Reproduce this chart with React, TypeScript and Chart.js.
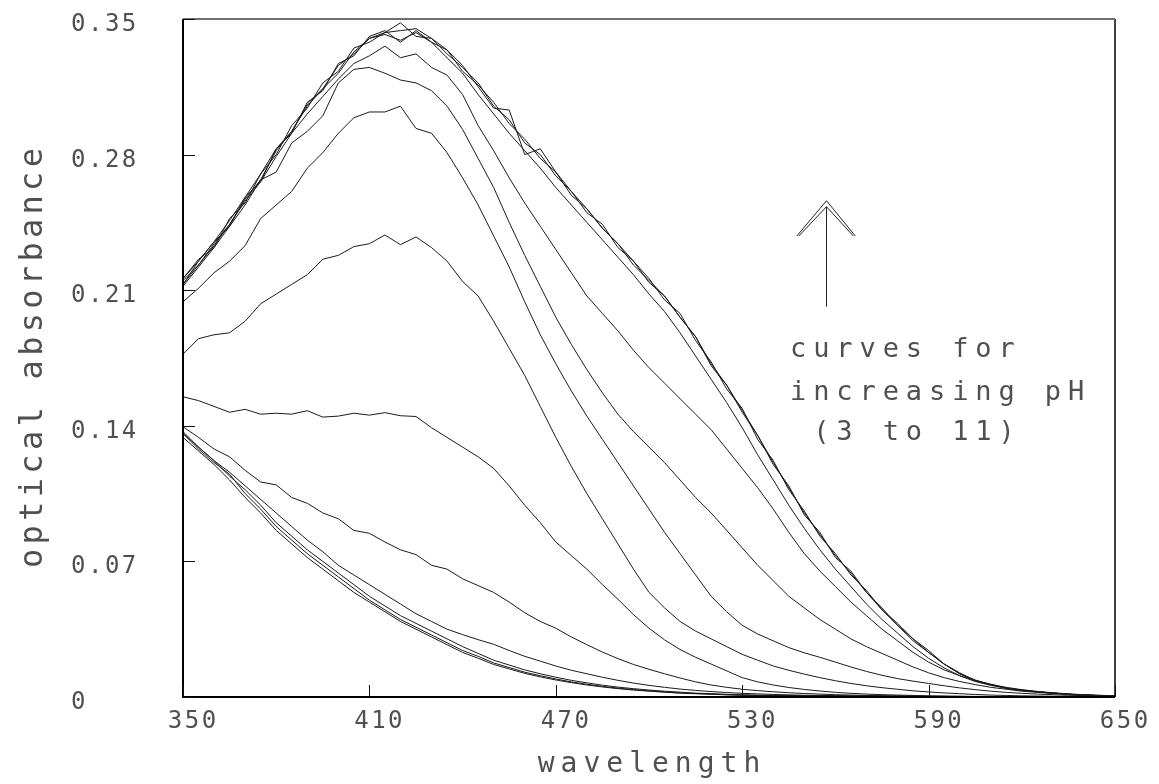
import React, { useEffect, useRef } from "react";
import { Chart, registerables } from "chart.js";

Chart.register(...registerables);

const WAVELENGTHS = [
  350, 355, 360, 365, 370, 375, 380, 385, 390, 395,
  400, 405, 410, 415, 420, 425, 430, 435, 440, 445,
  450, 455, 460, 465, 470, 475, 480, 485, 490, 495,
  500, 505, 510, 515, 520, 525, 530, 535, 540, 545,
  550, 555, 560, 565, 570, 575, 580, 585, 590, 595,
  600, 605, 610, 615, 620, 625, 630, 635, 640, 645, 650,
];

const X_TICKS = [350, 410, 470, 530, 590, 650];
const X_TICK_LABELS = ["350", "410", "470", "530", "590", "650"];
const Y_TICKS = [0, 0.07, 0.14, 0.21, 0.28, 0.35];
const Y_TICK_LABELS = ["0", "0.07", "0.14", "0.21", "0.28", "0.35"];

const X_TITLE = "wavelength";
const Y_TITLE = "optical absorbance";
const NOTE_LINES = ["curves for", "increasing pH", " (3 to 11)"];

// absorbance curves, lowest pH first
const S1 = [
  0.134, 0.127, 0.120, 0.112, 0.103, 0.095, 0.086, 0.079, 0.072, 0.066,
  0.060, 0.054, 0.049, 0.044, 0.039, 0.035, 0.031, 0.027, 0.023, 0.020,
  0.0168, 0.0145, 0.0122, 0.0104, 0.0088, 0.0074, 0.0062, 0.0052, 0.0043, 0.0036,
  0.0030, 0.0025, 0.0020, 0.0017, 0.0014, 0.0011, 0.0009, 0.0008, 0.0007, 0.0006,
  0.0005, 0.0004, 0.0004, 0.0003, 0.0003, 0.0003, 0.0002, 0.0002, 0.0002, 0.0002,
  0.0002, 0.0001, 0.0001, 0.0001, 0.0001, 0.0001, 0.0001, 0.0001, 0.0001, 0.0001, 0.0001,
];
const S2 = [
  0.136, 0.128, 0.121, 0.115, 0.105, 0.097, 0.088, 0.081, 0.074, 0.068,
  0.062, 0.056, 0.050, 0.045, 0.040, 0.036, 0.032, 0.028, 0.024, 0.021,
  0.0176, 0.0152, 0.0128, 0.0110, 0.0093, 0.0078, 0.0066, 0.0055, 0.0046, 0.0038,
  0.0032, 0.0026, 0.0021, 0.0018, 0.0015, 0.0012, 0.0010, 0.0008, 0.0007, 0.0006,
  0.0005, 0.0005, 0.0004, 0.0004, 0.0003, 0.0003, 0.0003, 0.0002, 0.0002, 0.0002,
  0.0002, 0.0002, 0.0001, 0.0001, 0.0001, 0.0001, 0.0001, 0.0001, 0.0001, 0.0001, 0.0001,
];
const S3 = [
  0.137, 0.129, 0.122, 0.114, 0.107, 0.099, 0.090, 0.083, 0.076, 0.070,
  0.064, 0.058, 0.052, 0.047, 0.042, 0.038, 0.034, 0.030, 0.026, 0.0225,
  0.0190, 0.0165, 0.0140, 0.0120, 0.0102, 0.0086, 0.0073, 0.0061, 0.0051, 0.0043,
  0.0036, 0.0030, 0.0025, 0.0020, 0.0017, 0.0014, 0.0011, 0.0009, 0.0008, 0.0007,
  0.0006, 0.0005, 0.0005, 0.0004, 0.0004, 0.0003, 0.0003, 0.0003, 0.0002, 0.0002,
  0.0002, 0.0002, 0.0002, 0.0001, 0.0001, 0.0001, 0.0001, 0.0001, 0.0001, 0.0001, 0.0001,
];
const S4 = [
  0.136, 0.129, 0.122, 0.116, 0.109, 0.102, 0.095, 0.088, 0.081, 0.075,
  0.068, 0.063, 0.058, 0.053, 0.048, 0.043, 0.039, 0.035, 0.0322, 0.0296,
  0.0272, 0.0240, 0.0210, 0.0185, 0.0160, 0.0138, 0.0120, 0.0102, 0.0086, 0.0072,
  0.0060, 0.0050, 0.0041, 0.0034, 0.0028, 0.0023, 0.0019, 0.0016, 0.0013, 0.0011,
  0.0009, 0.0008, 0.0007, 0.0006, 0.0005, 0.0004, 0.0004, 0.0003, 0.0003, 0.0003,
  0.0002, 0.0002, 0.0002, 0.0002, 0.0001, 0.0001, 0.0001, 0.0001, 0.0001, 0.0001, 0.0001,
];
const S5 = [
  0.1395, 0.134, 0.128, 0.124, 0.117, 0.111, 0.1095, 0.103, 0.100, 0.095,
  0.092, 0.086, 0.0845, 0.080, 0.076, 0.0735, 0.068, 0.066, 0.061, 0.0575,
  0.054, 0.049, 0.0435, 0.039, 0.0355, 0.031, 0.027, 0.0232, 0.0198, 0.0168,
  0.0143, 0.0120, 0.0098, 0.0078, 0.0062, 0.0050, 0.0040, 0.0033, 0.0027, 0.0022,
  0.0018, 0.0015, 0.0012, 0.0010, 0.0008, 0.0007, 0.0006, 0.0005, 0.0004, 0.0003,
  0.0003, 0.0002, 0.0002, 0.0002, 0.0002, 0.0001, 0.0001, 0.0001, 0.0001, 0.0001, 0.0001,
];
const S6 = [
  0.155, 0.153, 0.150, 0.147, 0.1485, 0.146, 0.1465, 0.146, 0.1478, 0.1445,
  0.145, 0.1465, 0.1455, 0.1468, 0.1452, 0.1448, 0.139, 0.134, 0.129, 0.124,
  0.118, 0.109, 0.099, 0.090, 0.080, 0.073, 0.066, 0.058, 0.0505, 0.0425,
  0.0355, 0.0295, 0.0245, 0.0205, 0.0170, 0.0135, 0.0100, 0.0078, 0.0062, 0.0049,
  0.0039, 0.0031, 0.0024, 0.0019, 0.0015, 0.0012, 0.0010, 0.0008, 0.0006, 0.0005,
  0.0004, 0.0003, 0.0003, 0.0002, 0.0002, 0.0002, 0.0001, 0.0001, 0.0001, 0.0001, 0.0001,
];
const S7 = [
  0.177, 0.185, 0.187, 0.188, 0.194, 0.203, 0.208, 0.213, 0.218, 0.226,
  0.228, 0.2325, 0.234, 0.2385, 0.2335, 0.2375, 0.232, 0.225, 0.2145, 0.207,
  0.194, 0.180, 0.166, 0.150, 0.134, 0.119, 0.105, 0.092, 0.079, 0.066,
  0.054, 0.046, 0.039, 0.034, 0.030, 0.026, 0.022, 0.019, 0.016, 0.0138,
  0.0118, 0.0100, 0.0084, 0.0070, 0.0058, 0.0048, 0.0040, 0.0032, 0.0026, 0.0021,
  0.0017, 0.0013, 0.0010, 0.0008, 0.0006, 0.0005, 0.0004, 0.0003, 0.0003, 0.0002, 0.0002,
];
const S8 = [
  0.204, 0.211, 0.219, 0.225, 0.233, 0.247, 0.254, 0.261, 0.273, 0.281,
  0.291, 0.299, 0.302, 0.302, 0.305, 0.2935, 0.291, 0.281, 0.268, 0.254,
  0.238, 0.222, 0.204, 0.187, 0.172, 0.158, 0.145, 0.133, 0.121, 0.109,
  0.097, 0.085, 0.074, 0.063, 0.052, 0.044, 0.037, 0.0325, 0.029, 0.0255,
  0.0228, 0.0205, 0.0180, 0.0155, 0.0132, 0.0112, 0.0095, 0.0082, 0.0070, 0.0058,
  0.0047, 0.0038, 0.0030, 0.0024, 0.0019, 0.0015, 0.0012, 0.0009, 0.0007, 0.0005, 0.0004,
];
const S9 = [
  0.212, 0.222, 0.232, 0.243, 0.254, 0.267, 0.271, 0.286, 0.292, 0.300,
  0.317, 0.324, 0.325, 0.322, 0.3185, 0.317, 0.313, 0.305, 0.293, 0.278,
  0.263, 0.245, 0.228, 0.212, 0.196, 0.182, 0.169, 0.157, 0.146, 0.137,
  0.129, 0.121, 0.112, 0.103, 0.095, 0.086, 0.077, 0.068, 0.060, 0.052,
  0.046, 0.040, 0.035, 0.030, 0.026, 0.0225, 0.0190, 0.0155, 0.0125, 0.0100,
  0.0080, 0.0064, 0.0050, 0.0040, 0.0030, 0.0024, 0.0018, 0.0014, 0.0010, 0.0007, 0.0005,
];
const S10 = [
  0.213, 0.223, 0.233, 0.244, 0.256, 0.266, 0.279, 0.291, 0.301, 0.310,
  0.319, 0.327, 0.331, 0.336, 0.330, 0.332, 0.325, 0.321, 0.311, 0.295,
  0.282, 0.268, 0.255, 0.243, 0.231, 0.219, 0.207, 0.198, 0.189, 0.179,
  0.170, 0.162, 0.154, 0.146, 0.138, 0.128, 0.118, 0.108, 0.097, 0.085,
  0.074, 0.065, 0.057, 0.049, 0.042, 0.035, 0.029, 0.023, 0.018, 0.014,
  0.011, 0.0085, 0.0065, 0.0050, 0.0038, 0.0029, 0.0022, 0.0016, 0.0012, 0.0009, 0.0006,
];
const S11 = [
  0.216, 0.225, 0.235, 0.246, 0.258, 0.270, 0.283, 0.292, 0.305, 0.314,
  0.322, 0.333, 0.340, 0.342, 0.339, 0.343, 0.338, 0.330, 0.322, 0.311,
  0.301, 0.291, 0.282, 0.273, 0.263, 0.254, 0.245, 0.236, 0.227, 0.218,
  0.208, 0.199, 0.188, 0.176, 0.164, 0.152, 0.139, 0.125, 0.112, 0.099,
  0.087, 0.076, 0.066, 0.057, 0.048, 0.040, 0.033, 0.026, 0.020, 0.015,
  0.011, 0.0080, 0.0060, 0.0045, 0.0034, 0.0026, 0.0020, 0.0015, 0.0011, 0.0008, 0.0006,
];
const S12 = [
  0.215, 0.223, 0.234, 0.244, 0.257, 0.267, 0.282, 0.292, 0.306, 0.314,
  0.326, 0.332, 0.340, 0.343, 0.344, 0.345, 0.340, 0.334, 0.326, 0.315,
  0.304, 0.303, 0.280, 0.283, 0.271, 0.261, 0.252, 0.242, 0.234, 0.225,
  0.214, 0.207, 0.196, 0.186, 0.171, 0.161, 0.147, 0.135, 0.120, 0.109,
  0.094, 0.085, 0.072, 0.065, 0.054, 0.046, 0.037, 0.030, 0.023, 0.017,
  0.012, 0.0088, 0.0064, 0.0046, 0.0035, 0.0027, 0.0020, 0.0014, 0.0010, 0.0007, 0.0005,
];
const S13 = [
  0.216, 0.226, 0.232, 0.247, 0.255, 0.270, 0.280, 0.295, 0.304, 0.317,
  0.323, 0.335, 0.338, 0.343, 0.348, 0.341, 0.340, 0.332, 0.325, 0.317,
  0.305, 0.298, 0.286, 0.280, 0.269, 0.261, 0.250, 0.244, 0.232, 0.225,
  0.216, 0.205, 0.198, 0.184, 0.173, 0.159, 0.149, 0.133, 0.122, 0.107,
  0.096, 0.083, 0.074, 0.063, 0.055, 0.045, 0.038, 0.030, 0.024, 0.017,
  0.0125, 0.0085, 0.0066, 0.0045, 0.0036, 0.0027, 0.0021, 0.0014, 0.0010, 0.0007, 0.0005,
];
const S14 = [
  0.213, 0.225, 0.235, 0.243, 0.258, 0.266, 0.283, 0.291, 0.307, 0.313,
  0.327, 0.331, 0.341, 0.344, 0.338, 0.344, 0.338, 0.334, 0.323, 0.316,
  0.307, 0.296, 0.288, 0.278, 0.271, 0.259, 0.252, 0.242, 0.234, 0.223,
  0.215, 0.207, 0.196, 0.186, 0.172, 0.161, 0.148, 0.135, 0.121, 0.108,
  0.095, 0.084, 0.073, 0.064, 0.054, 0.045, 0.037, 0.029, 0.023, 0.017,
  0.012, 0.0084, 0.0064, 0.0045, 0.0034, 0.0026, 0.0020, 0.0014, 0.0010, 0.0007, 0.0005,
];

const SERIES = [S1, S2, S3, S4, S5, S6, S7, S8, S9, S10, S11, S12, S13, S14];

// annotation anchor (in data units)
const ARROW_X = 557;
const ARROW_TOP = 0.2562;
const ARROW_BOTTOM = 0.2015;
const ARROW_WING_DX = 9.4;
const ARROW_WING_Y = 0.238;
const NOTE_X = 545.4;
const NOTE_BASELINES = [0.1755, 0.1533, 0.1327];

const FONT = '"DejaVu Sans Mono", monospace';
const TEXT_COLOR = "#505050";

function spacedText(
  ctx: CanvasRenderingContext2D,
  text: string,
  x: number,
  y: number,
  align: "left" | "center",
  spacing: number
) {
  const widths = Array.from(text).map((c) => ctx.measureText(c).width + spacing);
  const total = widths.reduce((a, b) => a + b, 0) - spacing;
  let cx = align === "center" ? x - total / 2 : x;
  ctx.textAlign = "left";
  Array.from(text).forEach((c, i) => {
    ctx.fillText(c, cx, y);
    cx += widths[i];
  });
}

const overlay = {
  id: "overlay",
  afterDraw(chart: any) {
    const { ctx, chartArea: a, scales } = chart;
    const xs = scales.x;
    const ys = scales.y;
    ctx.save();

    // frame
    ctx.lineCap = "butt";
    ctx.strokeStyle = "#000";
    ctx.lineWidth = 2;
    ctx.beginPath();
    ctx.moveTo(a.left, a.top);
    ctx.lineTo(a.left, a.bottom);
    ctx.lineTo(a.right, a.bottom);
    ctx.stroke();
    ctx.lineWidth = 1.5;
    ctx.beginPath();
    ctx.moveTo(a.right, a.bottom);
    ctx.lineTo(a.right, a.top);
    ctx.stroke();
    ctx.strokeStyle = "#707070";
    ctx.lineWidth = 2;
    ctx.beginPath();
    ctx.moveTo(a.left, a.top);
    ctx.lineTo(a.right, a.top);
    ctx.stroke();

    // inward tick marks
    ctx.strokeStyle = "#111";
    ctx.lineWidth = 1;
    X_TICKS.forEach((v) => {
      const px = Math.round(xs.getPixelForValue(v)) + 0.5;
      ctx.beginPath();
      ctx.moveTo(px, a.bottom);
      ctx.lineTo(px, a.bottom - 12);
      ctx.stroke();
    });
    Y_TICKS.forEach((v) => {
      const py = Math.round(ys.getPixelForValue(v)) + 0.5;
      ctx.beginPath();
      ctx.moveTo(a.left, py);
      ctx.lineTo(a.left + 12, py);
      ctx.stroke();
    });

    // tick labels
    ctx.fillStyle = TEXT_COLOR;
    ctx.textBaseline = "alphabetic";
    ctx.font = `24px ${FONT}`;
    X_TICKS.forEach((v, i) => {
      spacedText(ctx, X_TICK_LABELS[i], xs.getPixelForValue(v) + 9, a.bottom + 31, "center", 2.5);
    });
    Y_TICKS.forEach((v, i) => {
      spacedText(ctx, Y_TICK_LABELS[i], 71, ys.getPixelForValue(v) + 12, "left", 2.5);
    });

    // axis titles
    ctx.font = `28px ${FONT}`;
    spacedText(ctx, X_TITLE, (a.left + a.right) / 2, 772, "center", 6);
    ctx.save();
    ctx.translate(42, (a.top + a.bottom) / 2);
    ctx.rotate(-Math.PI / 2);
    ctx.font = `32px ${FONT}`;
    spacedText(ctx, Y_TITLE, 0, 0, "center", 4.3);
    ctx.restore();

    // annotation arrow
    const ax = Math.round(xs.getPixelForValue(ARROW_X)) + 0.5;
    const at = ys.getPixelForValue(ARROW_TOP);
    const ab = ys.getPixelForValue(ARROW_BOTTOM);
    const wl = xs.getPixelForValue(ARROW_X - ARROW_WING_DX);
    const wr = xs.getPixelForValue(ARROW_X + ARROW_WING_DX);
    const wy = ys.getPixelForValue(ARROW_WING_Y);
    ctx.strokeStyle = "#222";
    ctx.lineWidth = 1;
    ctx.beginPath();
    ctx.moveTo(ax, ab);
    ctx.lineTo(ax, at + 6);
    ctx.moveTo(wl, wy);
    ctx.lineTo(ax, at);
    ctx.lineTo(wr, wy);
    ctx.moveTo(wl + 2, wy);
    ctx.lineTo(ax, at + 6);
    ctx.lineTo(wr - 2, wy);
    ctx.stroke();

    // annotation text
    ctx.fillStyle = TEXT_COLOR;
    ctx.font = `27px ${FONT}`;
    const nx = xs.getPixelForValue(NOTE_X);
    NOTE_LINES.forEach((line, i) => {
      spacedText(ctx, line, nx, ys.getPixelForValue(NOTE_BASELINES[i]), "left", 6.9);
    });

    ctx.restore();
  },
};

export default function App() {
  const canvasRef = useRef<HTMLCanvasElement | null>(null);

  useEffect(() => {
    const canvas = canvasRef.current;
    if (!canvas) return;
    const chart = new Chart(canvas, {
      type: "line",
      data: {
        datasets: SERIES.map((s, k) => ({
          label: `curve ${k + 1}`,
          data: s.map((v, i) => ({ x: WAVELENGTHS[i], y: v })),
          borderColor: "#1a1a1a",
          borderWidth: 1,
          pointRadius: 0,
          tension: 0,
          fill: false,
        })),
      },
      options: {
        animation: false,
        responsive: false,
        devicePixelRatio: 1,
        events: [],
        layout: { padding: { left: 0, top: 19, right: 44, bottom: 0 } },
        plugins: { legend: { display: false }, tooltip: { enabled: false } },
        scales: {
          x: {
            type: "linear",
            min: 350,
            max: 650,
            ticks: { display: false },
            grid: { display: false, drawTicks: false },
            border: { display: false },
            afterFit: (s: any) => {
              s.height = 87;
            },
          },
          y: {
            type: "linear",
            min: 0,
            max: 0.35,
            ticks: { display: false },
            grid: { display: false, drawTicks: false },
            border: { display: false },
            afterFit: (s: any) => {
              s.width = 183;
            },
          },
        },
      },
      plugins: [overlay],
    } as any);
    return () => chart.destroy();
  }, []);

  return (
    <div
      style={{
        position: "fixed",
        left: 0,
        top: 0,
        width: 1159,
        height: 784,
        background: "#fff",
      }}
    >
      <canvas
        ref={canvasRef}
        width={1159}
        height={784}
        style={{ display: "block", width: 1159, height: 784 }}
      />
    </div>
  );
}
